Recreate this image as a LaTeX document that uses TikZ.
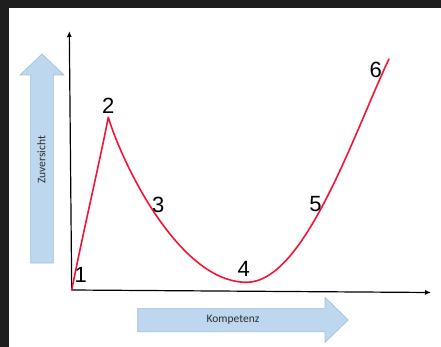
\documentclass[tikz,border=0pt]{standalone}
\usepackage{fontspec}
\setmainfont{Liberation Sans}
\newfontfamily\calib{Carlito}
\usetikzlibrary{arrows.meta}
\definecolor{bgdark}{RGB}{30,30,30}
\definecolor{arrowfill}{RGB}{189,215,238}
\definecolor{arrowline}{RGB}{160,192,222}
\definecolor{curvered}{RGB}{245,20,55}
\definecolor{labelgray}{RGB}{45,45,45}
\begin{document}
\begin{tikzpicture}[x=1pt,y=-1pt,
  blockarrow/.style={fill=arrowfill, draw=arrowline, line width=0.6pt},
  axisline/.style={line width=1.2pt, -{Latex[length=6pt,width=5pt]}},
  curveline/.style={curvered, line width=1.6pt, line cap=round, line join=round},
  num/.style={font=\fontsize{22}{24}\selectfont, inner sep=0pt, text=black},
  arrowtext/.style={font=\calib\fontsize{11.5}{13}\selectfont, text=labelgray, inner sep=0pt}]
\useasboundingbox (0,0) rectangle (441,347);
\fill[bgdark] (0,0) rectangle (441,347);
\fill[white] (9,7.7) rectangle (441,347);
% block arrows
\draw[blockarrow] (30.7,263) -- (30.7,75) -- (20,75) -- (42,54) -- (64,75) -- (53.3,75) -- (53.3,263) -- cycle;
\draw[blockarrow] (137.7,308.3) -- (325,308.3) -- (325,297.3) -- (348.3,320) -- (325,342.3) -- (325,331.7) -- (137.7,331.7) -- cycle;
\node[arrowtext, rotate=90] (zuv) at (41.5,160) {Zuversicht};
\node[arrowtext] (komp) at (233,320) {Kompetenz};
% axes
\coordinate (O) at (71.7,290);
\coordinate (ytop) at (69.3,31);
\coordinate (xend) at (431,292.5);
\draw[axisline] (O) -- (ytop);
\draw[axisline] (O) -- (xend);
% curve
\coordinate (peak) at (108.3,117.3);
\coordinate (mincurve) at (246.7,282.3);
\coordinate (endcurve) at (389,59);
\draw[curveline] (O) .. controls (84,228) and (99,165) .. (peak)
  .. controls (121,160) and (178,282.3) .. (mincurve)
  .. controls (305,282.3) and (355,130) .. (endcurve);
% labels
\node[num] (l1) at (80.8,275) {1};
\node[num] (l2) at (108.3,106.2) {2};
\node[num] (l3) at (158.3,205) {3};
\node[num] (l4) at (243.7,268.7) {4};
\node[num] (l5) at (315.5,203.7) {5};
\node[num] (l6) at (375.7,70) {6};
\end{tikzpicture}
\end{document}
